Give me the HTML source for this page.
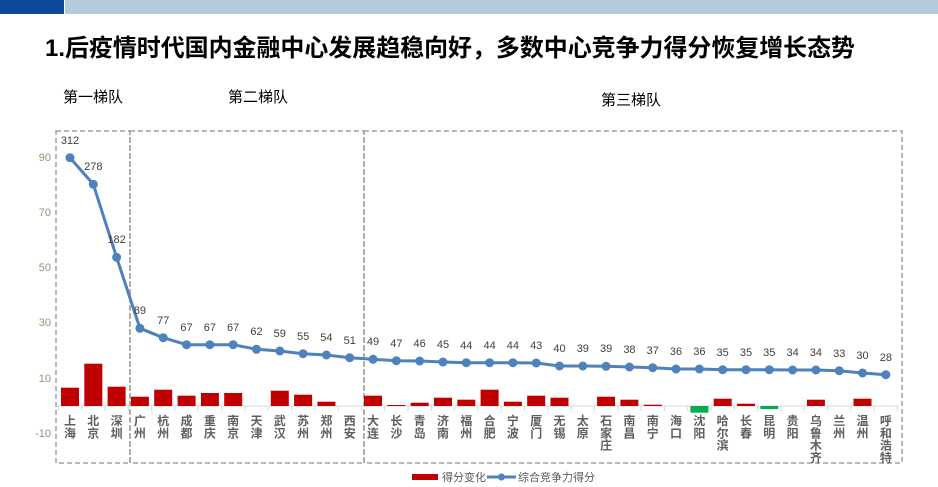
<!DOCTYPE html>
<html><head><meta charset="utf-8"><style>
html,body{margin:0;padding:0;background:#fff;}
svg{display:block;}
text{font-family:"Liberation Sans","Noto Sans CJK SC",sans-serif;}
</style></head><body>
<svg width="938" height="487" viewBox="0 0 938 487" xmlns="http://www.w3.org/2000/svg">
<rect x="0" y="0" width="938" height="487" fill="#fff"/>
<rect x="0" y="0" width="64" height="14" fill="#0d4a9a"/>
<rect x="65" y="0" width="873" height="14" fill="#b5cadb"/>
<text x="45" y="56" font-size="24" font-weight="bold" fill="#000" textLength="810" lengthAdjust="spacingAndGlyphs">1.后疫情时代国内金融中心发展趋稳向好，多数中心竞争力得分恢复增长态势</text>
<g font-size="15" fill="#000">
<text x="63" y="102">第一梯队</text>
<text x="228" y="102">第二梯队</text>
<text x="601" y="105">第三梯队</text>
</g>
<g fill="none" stroke="#a0a0a0" stroke-width="1.5" stroke-dasharray="5,3">
<rect x="56" y="131" width="74" height="332"/>
<rect x="130" y="131" width="234" height="332"/>
<rect x="364" y="131" width="538" height="332"/>
</g>
<g font-size="11" fill="#9a9075" text-anchor="end">
<text x="51" y="161">90</text>
<text x="51" y="216">70</text>
<text x="51" y="271">50</text>
<text x="51" y="326">30</text>
<text x="51" y="382">10</text>
<text x="51" y="437">-10</text>
</g>
<line x1="58" y1="406" x2="898" y2="406" stroke="#d9d9d9" stroke-width="1"/>
<g stroke="#d9d9d9" stroke-width="1">
<line x1="58.3" y1="406" x2="58.3" y2="411"/><line x1="81.7" y1="406" x2="81.7" y2="411"/><line x1="105" y1="406" x2="105" y2="411"/><line x1="128.3" y1="406" x2="128.3" y2="411"/><line x1="151.6" y1="406" x2="151.6" y2="411"/><line x1="174.9" y1="406" x2="174.9" y2="411"/><line x1="198.2" y1="406" x2="198.2" y2="411"/><line x1="221.5" y1="406" x2="221.5" y2="411"/><line x1="244.8" y1="406" x2="244.8" y2="411"/><line x1="268.1" y1="406" x2="268.1" y2="411"/><line x1="291.4" y1="406" x2="291.4" y2="411"/><line x1="314.8" y1="406" x2="314.8" y2="411"/><line x1="338.1" y1="406" x2="338.1" y2="411"/><line x1="361.4" y1="406" x2="361.4" y2="411"/><line x1="384.7" y1="406" x2="384.7" y2="411"/><line x1="408" y1="406" x2="408" y2="411"/><line x1="431.3" y1="406" x2="431.3" y2="411"/><line x1="454.6" y1="406" x2="454.6" y2="411"/><line x1="477.9" y1="406" x2="477.9" y2="411"/><line x1="501.2" y1="406" x2="501.2" y2="411"/><line x1="524.5" y1="406" x2="524.5" y2="411"/><line x1="547.9" y1="406" x2="547.9" y2="411"/><line x1="571.2" y1="406" x2="571.2" y2="411"/><line x1="594.5" y1="406" x2="594.5" y2="411"/><line x1="617.8" y1="406" x2="617.8" y2="411"/><line x1="641.1" y1="406" x2="641.1" y2="411"/><line x1="664.4" y1="406" x2="664.4" y2="411"/><line x1="687.7" y1="406" x2="687.7" y2="411"/><line x1="711" y1="406" x2="711" y2="411"/><line x1="734.3" y1="406" x2="734.3" y2="411"/><line x1="757.6" y1="406" x2="757.6" y2="411"/><line x1="781" y1="406" x2="781" y2="411"/><line x1="804.3" y1="406" x2="804.3" y2="411"/><line x1="827.6" y1="406" x2="827.6" y2="411"/><line x1="850.9" y1="406" x2="850.9" y2="411"/><line x1="874.2" y1="406" x2="874.2" y2="411"/><line x1="897.5" y1="406" x2="897.5" y2="411"/>
</g>
<g fill="#c00000">
<rect x="61" y="387.7" width="18" height="18.3"/>
<rect x="84.3" y="363.7" width="18" height="42.3"/>
<rect x="107.6" y="386.7" width="18" height="19.3"/>
<rect x="130.9" y="396.7" width="18" height="9.3"/>
<rect x="154.2" y="389.7" width="18" height="16.3"/>
<rect x="177.6" y="395.7" width="18" height="10.3"/>
<rect x="200.9" y="393" width="18" height="13"/>
<rect x="224.2" y="393" width="18" height="13"/>
<rect x="270.8" y="390.7" width="18" height="15.3"/>
<rect x="294.1" y="394.7" width="18" height="11.3"/>
<rect x="317.4" y="401.7" width="18" height="4.3"/>
<rect x="364" y="395.7" width="18" height="10.3"/>
<rect x="387.3" y="405" width="18" height="1"/>
<rect x="410.7" y="402.7" width="18" height="3.3"/>
<rect x="434" y="397.7" width="18" height="8.3"/>
<rect x="457.3" y="399.7" width="18" height="6.3"/>
<rect x="480.6" y="389.7" width="18" height="16.3"/>
<rect x="503.9" y="401.7" width="18" height="4.3"/>
<rect x="527.2" y="395.7" width="18" height="10.3"/>
<rect x="550.5" y="397.7" width="18" height="8.3"/>
<rect x="597.1" y="396.7" width="18" height="9.3"/>
<rect x="620.4" y="399.7" width="18" height="6.3"/>
<rect x="643.8" y="404.7" width="18" height="1.3"/>
<rect x="713.7" y="398.7" width="18" height="7.3"/>
<rect x="737" y="403.7" width="18" height="2.3"/>
<rect x="806.9" y="399.7" width="18" height="6.3"/>
<rect x="853.5" y="398.7" width="18" height="7.3"/>
</g>
<g fill="#00b050">
<rect x="690.4" y="406" width="18" height="6.7"/>
<rect x="760.3" y="406" width="18" height="3"/>
</g>
<polyline fill="none" stroke="#4f81bd" stroke-width="3" stroke-linejoin="round" points="70,157.7 93.31,184.3 116.62,257.3 139.93,328.3 163.24,337.7 186.55,344.7 209.86,344.7 233.17,344.7 256.48,349.3 279.79,351 303.1,353.7 326.41,355 349.72,357.7 373.03,359.3 396.34,360.7 419.65,361 442.96,362 466.27,362.7 489.58,362.7 512.89,362.7 536.2,363 559.51,366 582.82,366 606.13,366.3 629.44,367 652.75,367.7 676.06,369 699.37,369 722.68,369.7 745.99,369.7 769.3,369.7 792.61,370 815.92,370 839.23,370.7 862.54,373 885.85,374.7"/>
<g fill="#4f81bd">
<circle cx="70" cy="157.7" r="4.5"/><circle cx="93.31" cy="184.3" r="4.5"/><circle cx="116.62" cy="257.3" r="4.5"/><circle cx="139.93" cy="328.3" r="4.5"/><circle cx="163.24" cy="337.7" r="4.5"/><circle cx="186.55" cy="344.7" r="4.5"/><circle cx="209.86" cy="344.7" r="4.5"/><circle cx="233.17" cy="344.7" r="4.5"/><circle cx="256.48" cy="349.3" r="4.5"/><circle cx="279.79" cy="351" r="4.5"/><circle cx="303.1" cy="353.7" r="4.5"/><circle cx="326.41" cy="355" r="4.5"/><circle cx="349.72" cy="357.7" r="4.5"/><circle cx="373.03" cy="359.3" r="4.5"/><circle cx="396.34" cy="360.7" r="4.5"/><circle cx="419.65" cy="361" r="4.5"/><circle cx="442.96" cy="362" r="4.5"/><circle cx="466.27" cy="362.7" r="4.5"/><circle cx="489.58" cy="362.7" r="4.5"/><circle cx="512.89" cy="362.7" r="4.5"/><circle cx="536.2" cy="363" r="4.5"/><circle cx="559.51" cy="366" r="4.5"/><circle cx="582.82" cy="366" r="4.5"/><circle cx="606.13" cy="366.3" r="4.5"/><circle cx="629.44" cy="367" r="4.5"/><circle cx="652.75" cy="367.7" r="4.5"/><circle cx="676.06" cy="369" r="4.5"/><circle cx="699.37" cy="369" r="4.5"/><circle cx="722.68" cy="369.7" r="4.5"/><circle cx="745.99" cy="369.7" r="4.5"/><circle cx="769.3" cy="369.7" r="4.5"/><circle cx="792.61" cy="370" r="4.5"/><circle cx="815.92" cy="370" r="4.5"/><circle cx="839.23" cy="370.7" r="4.5"/><circle cx="862.54" cy="373" r="4.5"/><circle cx="885.85" cy="374.7" r="4.5"/>
</g>
<g font-size="11" fill="#404040" text-anchor="middle">
<text x="70" y="144">312</text><text x="93.31" y="170">278</text><text x="116.62" y="243">182</text><text x="139.93" y="314">89</text><text x="163.24" y="324">77</text><text x="186.55" y="331">67</text><text x="209.86" y="331">67</text><text x="233.17" y="331">67</text><text x="256.48" y="335">62</text><text x="279.79" y="337">59</text><text x="303.1" y="340">55</text><text x="326.41" y="341">54</text><text x="349.72" y="344">51</text><text x="373.03" y="345">49</text><text x="396.34" y="347">47</text><text x="419.65" y="347">46</text><text x="442.96" y="348">45</text><text x="466.27" y="349">44</text><text x="489.58" y="349">44</text><text x="512.89" y="349">44</text><text x="536.2" y="349">43</text><text x="559.51" y="352">40</text><text x="582.82" y="352">39</text><text x="606.13" y="352">39</text><text x="629.44" y="353">38</text><text x="652.75" y="354">37</text><text x="676.06" y="355">36</text><text x="699.37" y="355">36</text><text x="722.68" y="356">35</text><text x="745.99" y="356">35</text><text x="769.3" y="356">35</text><text x="792.61" y="356">34</text><text x="815.92" y="356">34</text><text x="839.23" y="357">33</text><text x="862.54" y="359">30</text><text x="885.85" y="361">28</text>
</g>
<g font-size="12" font-weight="bold" fill="#5f5f5f" text-anchor="middle">
<text x="70"><tspan x="70" y="425">上</tspan><tspan x="70" y="437.3">海</tspan></text>
<text><tspan x="93.31" y="425">北</tspan><tspan x="93.31" y="437.3">京</tspan></text>
<text><tspan x="116.62" y="425">深</tspan><tspan x="116.62" y="437.3">圳</tspan></text>
<text><tspan x="139.93" y="425">广</tspan><tspan x="139.93" y="437.3">州</tspan></text>
<text><tspan x="163.24" y="425">杭</tspan><tspan x="163.24" y="437.3">州</tspan></text>
<text><tspan x="186.55" y="425">成</tspan><tspan x="186.55" y="437.3">都</tspan></text>
<text><tspan x="209.86" y="425">重</tspan><tspan x="209.86" y="437.3">庆</tspan></text>
<text><tspan x="233.17" y="425">南</tspan><tspan x="233.17" y="437.3">京</tspan></text>
<text><tspan x="256.48" y="425">天</tspan><tspan x="256.48" y="437.3">津</tspan></text>
<text><tspan x="279.79" y="425">武</tspan><tspan x="279.79" y="437.3">汉</tspan></text>
<text><tspan x="303.1" y="425">苏</tspan><tspan x="303.1" y="437.3">州</tspan></text>
<text><tspan x="326.41" y="425">郑</tspan><tspan x="326.41" y="437.3">州</tspan></text>
<text><tspan x="349.72" y="425">西</tspan><tspan x="349.72" y="437.3">安</tspan></text>
<text><tspan x="373.03" y="425">大</tspan><tspan x="373.03" y="437.3">连</tspan></text>
<text><tspan x="396.34" y="425">长</tspan><tspan x="396.34" y="437.3">沙</tspan></text>
<text><tspan x="419.65" y="425">青</tspan><tspan x="419.65" y="437.3">岛</tspan></text>
<text><tspan x="442.96" y="425">济</tspan><tspan x="442.96" y="437.3">南</tspan></text>
<text><tspan x="466.27" y="425">福</tspan><tspan x="466.27" y="437.3">州</tspan></text>
<text><tspan x="489.58" y="425">合</tspan><tspan x="489.58" y="437.3">肥</tspan></text>
<text><tspan x="512.89" y="425">宁</tspan><tspan x="512.89" y="437.3">波</tspan></text>
<text><tspan x="536.2" y="425">厦</tspan><tspan x="536.2" y="437.3">门</tspan></text>
<text><tspan x="559.51" y="425">无</tspan><tspan x="559.51" y="437.3">锡</tspan></text>
<text><tspan x="582.82" y="425">太</tspan><tspan x="582.82" y="437.3">原</tspan></text>
<text><tspan x="606.13" y="425">石</tspan><tspan x="606.13" y="437.3">家</tspan><tspan x="606.13" y="449.6">庄</tspan></text>
<text><tspan x="629.44" y="425">南</tspan><tspan x="629.44" y="437.3">昌</tspan></text>
<text><tspan x="652.75" y="425">南</tspan><tspan x="652.75" y="437.3">宁</tspan></text>
<text><tspan x="676.06" y="425">海</tspan><tspan x="676.06" y="437.3">口</tspan></text>
<text><tspan x="699.37" y="425">沈</tspan><tspan x="699.37" y="437.3">阳</tspan></text>
<text><tspan x="722.68" y="425">哈</tspan><tspan x="722.68" y="437.3">尔</tspan><tspan x="722.68" y="449.6">滨</tspan></text>
<text><tspan x="745.99" y="425">长</tspan><tspan x="745.99" y="437.3">春</tspan></text>
<text><tspan x="769.3" y="425">昆</tspan><tspan x="769.3" y="437.3">明</tspan></text>
<text><tspan x="792.61" y="425">贵</tspan><tspan x="792.61" y="437.3">阳</tspan></text>
<text><tspan x="815.92" y="425">乌</tspan><tspan x="815.92" y="437.3">鲁</tspan><tspan x="815.92" y="449.6">木</tspan><tspan x="815.92" y="461.9">齐</tspan></text>
<text><tspan x="839.23" y="425">兰</tspan><tspan x="839.23" y="437.3">州</tspan></text>
<text><tspan x="862.54" y="425">温</tspan><tspan x="862.54" y="437.3">州</tspan></text>
<text><tspan x="885.85" y="425">呼</tspan><tspan x="885.85" y="437.3">和</tspan><tspan x="885.85" y="449.6">浩</tspan><tspan x="885.85" y="461.9">特</tspan></text>
</g>
<rect x="412" y="474" width="26" height="6" fill="#c00000"/>
<text x="442" y="481" font-size="11" fill="#595959">得分变化</text>
<line x1="487" y1="477" x2="516" y2="477" stroke="#4f81bd" stroke-width="3"/>
<circle cx="501.5" cy="477" r="3.5" fill="#4f81bd"/>
<text x="518" y="481" font-size="11" fill="#595959">综合竞争力得分</text>
</svg>
</body></html>
